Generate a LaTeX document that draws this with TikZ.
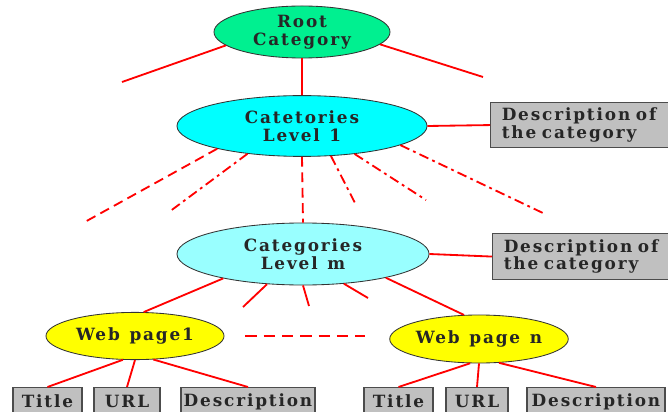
\documentclass[tikz,border=0pt]{standalone}
\usepackage{fontspec}
\newfontfamily\catfont[LetterSpace=11,WordSpace=1.25]{DejaVu Serif}
\usetikzlibrary{shapes.geometric}
\definecolor{rootgreen}{RGB}{0,240,144}
\definecolor{levelcyan}{RGB}{0,255,255}
\definecolor{lightcyan}{RGB}{153,255,255}
\definecolor{pageyellow}{RGB}{255,255,0}
\definecolor{boxgray}{RGB}{192,192,192}
\tikzset{
	catnode/.style={ellipse, draw=black!80, line width=0.6pt, inner sep=0pt, align=center,
		font=\catfont\bfseries\fontsize{12}{12.5}\selectfont, text=black!85},
	infobox/.style={rectangle, draw=black!70, fill=boxgray, line width=0.8pt, inner xsep=0.05cm,
		font=\catfont\bfseries\fontsize{12}{12.5}\selectfont, text=black!85},
	link/.style={red, line width=1.3pt},
	longdash/.style={dash pattern=on 7pt off 4pt},
	longdashdot/.style={dash pattern=on 7pt off 3pt on 2pt off 3pt},
}

\begin{document}
\begin{tikzpicture}[x=0.025cm, y=-0.025cm]
	\useasboundingbox (0,0) rectangle (668,412);
	\clip (0,0) rectangle (668,412);
	\fill[white] (0,0) rectangle (668,412);

	%category ellipses
	\node[catnode, fill=rootgreen, minimum width=4.4cm, minimum height=1.3cm] (root) at (302,32) {Root\\Category};
	\node[catnode, fill=levelcyan, minimum width=6.25cm, minimum height=1.52cm] (lone) at (302,126) {Catetories\\Level 1};
	\node[catnode, fill=lightcyan, minimum width=6.3cm, minimum height=1.55cm] (lm) at (303,254) {Categories\\Level m};
	\node[catnode, fill=pageyellow, minimum width=4.45cm, minimum height=1.18cm] (webone) at (135,336) {Web page1};
	\node[catnode, fill=pageyellow, minimum width=4.4cm, minimum height=1.2cm] (webn) at (479,339) {Web page n};

	%description boxes
	\node[infobox, anchor=north west, text width=4.3cm, minimum height=1.125cm, inner xsep=0.28cm, align=left] (descone) at (490,102) {Description of\\the category};
	\node[infobox, anchor=north west, text width=4.3cm, minimum height=1.15cm, inner xsep=0.28cm, align=left] (descm) at (492,233) {Description of\\the category};

	%page fields
	\node[infobox, anchor=north, minimum width=1.725cm, minimum height=0.7cm] (titleone) at (47.5,387) {Title};
	\node[infobox, anchor=north, minimum width=1.65cm, minimum height=0.7cm] (urlone) at (127,387) {URL};
	\node[infobox, anchor=north, minimum width=3.35cm, minimum height=0.7cm] (textone) at (248,387) {Description};
	\node[infobox, anchor=north, minimum width=1.725cm, minimum height=0.7cm] (titlen) at (398.5,387) {Title};
	\node[infobox, anchor=north, minimum width=1.55cm, minimum height=0.7cm] (urln) at (477,387) {URL};
	\node[infobox, anchor=north, minimum width=3.45cm, minimum height=0.7cm] (textn) at (596,387) {Description};

	%free ends
	\coordinate (rl) at (122,82);		\coordinate (rr) at (483,77);
	\coordinate (da) at (83,223);		\coordinate (db) at (169,212);
	\coordinate (dc) at (355,203);		\coordinate (dd) at (426,200);
	\coordinate (de) at (545,214);
	\coordinate (ta) at (243,307);		\coordinate (tb) at (309,306);
	\coordinate (tc) at (368,298);

	%root links
	\draw[link] (root.190) -- (rl);		\draw[link] (root.351) -- (rr);
	\draw[link] (root.south) -- (lone.north);
	\draw[link] (lone.east) -- (descone.west);

	%level 1 down to level m
	\draw[link, longdash] (lone.195) -- (da);
	\draw[link, longdashdot] (lone.207) -- (db);
	\draw[link, longdash] (lone.south) -- (lm.north);
	\draw[link, longdashdot] (lone.314) -- (dc);
	\draw[link, longdashdot] (lone.332) -- (dd);
	\draw[link, longdashdot] (lone.349) -- (de);

	%level m to pages
	\draw[link] (lm.east) -- (descm.west);
	\draw[link] (lm.197) -- (webone.70);
	\draw[link] (lm.344) -- (webn.122);
	\draw[link] (lm.220) -- (ta);		\draw[link] (lm.270) -- (tb);
	\draw[link] (lm.324) -- (tc);
	\draw[link, dash pattern=on 8pt off 5pt, shorten <=0.525cm, shorten >=0.6cm] (webone.east) -- (webn.west |- webone.east);

	%page fields
	\draw[link] (webone.243) -- (titleone.north);	\draw[link] (webone.south) -- (urlone.north);
	\draw[link] (webone.308) -- (textone.north);
	\draw[link] (webn.250) -- (titlen.north);		\draw[link] (webn.south) -- (urln.north);
	\draw[link] (webn.310) -- (textn.north);
\end{tikzpicture}
\end{document}
